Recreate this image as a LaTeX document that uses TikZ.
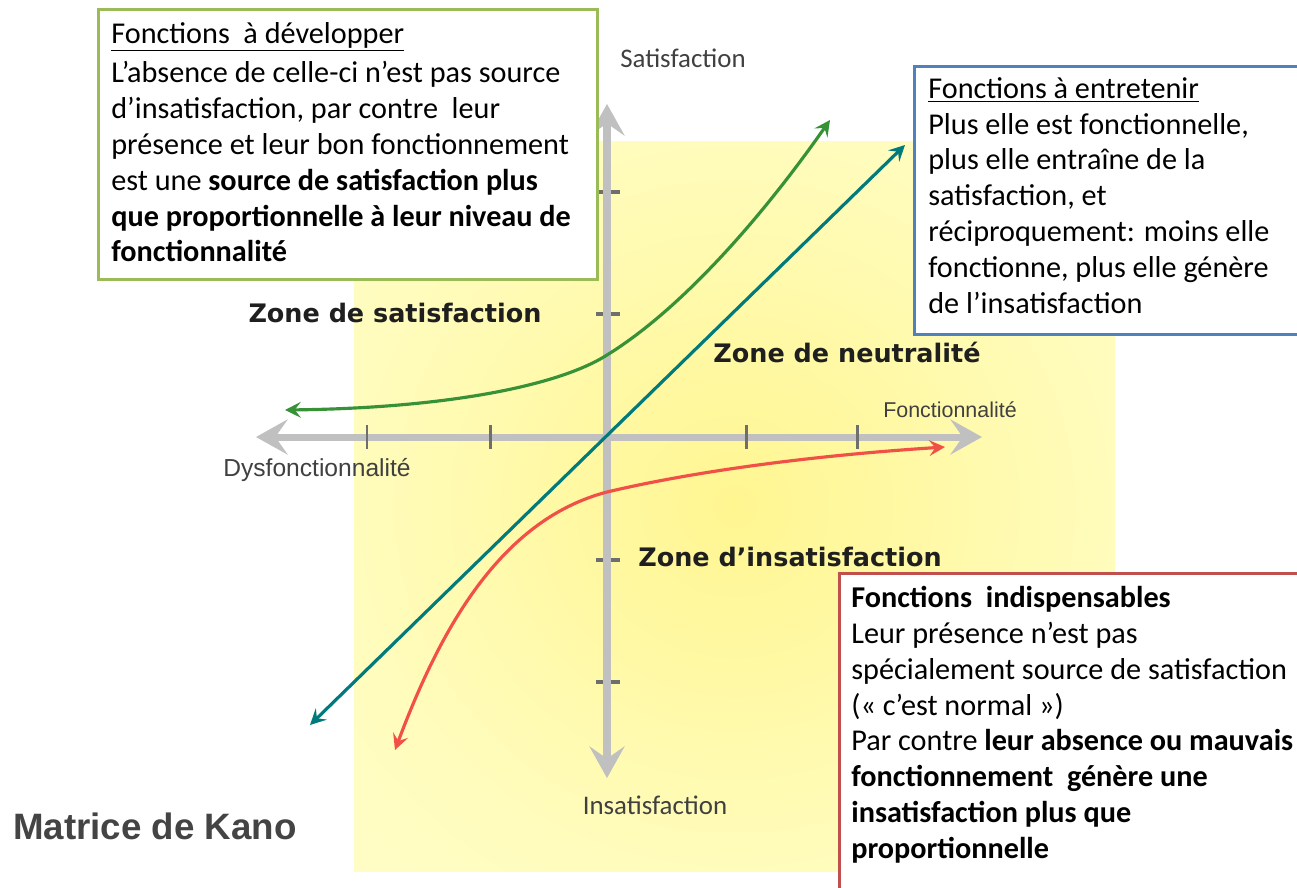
\documentclass[tikz,border=0pt]{standalone}
\usepackage{fontspec}
\setmainfont{Carlito}
\newfontfamily\arialfont{Liberation Sans}
\newfontfamily\zonefont{DejaVu Sans}
\usepackage{xcolor}
\usetikzlibrary{arrows.meta, positioning}
\definecolor{devgreen}{RGB}{155,187,89}
\definecolor{entblue}{RGB}{79,129,189}
\definecolor{indred}{RGB}{192,80,77}
\definecolor{curvegreen}{RGB}{55,145,55}
\definecolor{curveteal}{RGB}{0,122,122}
\definecolor{curvered}{RGB}{240,80,70}
\definecolor{axisgray}{RGB}{192,192,192}
\definecolor{tickgray}{RGB}{110,110,110}
\definecolor{titlegray}{RGB}{68,68,68}
\definecolor{bgcenter}{RGB}{255,246,145}
\definecolor{bgmid}{RGB}{255,252,188}
\definecolor{bgedge}{RGB}{255,255,210}
\pgfdeclareradialshading{zonebg}{\pgfpoint{0bp}{0bp}}{%
  color(0bp)=(bgcenter); color(25bp)=(bgmid); color(50bp)=(bgedge); color(75bp)=(bgedge)}

\begin{document}
\begin{tikzpicture}[x=0.02cm, y=-0.02cm,
        frame/.style={line width=1.7pt, fill=white, anchor=north west},
        boxtext/.style={font=\fontsize{17.2}{20.4}\selectfont, align=left, inner sep=0pt},
        zone/.style={font=\zonefont\bfseries\fontsize{14.5}{16}\selectfont, text=black!88},
        axis/.style={axisgray, line width=4pt, {Stealth[width=20pt,length=18pt,inset=7pt]}-{Stealth[width=20pt,length=18pt,inset=7pt]}},
        tick/.style={tickgray, line width=1.7pt},
        curve/.style={line width=1.8pt, {Stealth[width=9pt,length=9pt,inset=3.5pt]}-{Stealth[width=9pt,length=9pt,inset=3.5pt]}}]
      \useasboundingbox (0,0) rectangle (1297,887);
      \shade[shading=zonebg] (354,141) rectangle (1115,871);

      % axes
      \coordinate (xl) at (256,437);
      \coordinate (xr) at (982,437);
      \coordinate (yt) at (607,104);
      \coordinate (yb) at (607,778);
      \foreach \y in {192,314,560,682}
        \draw[tick, line width=2.6pt] (596,\y) -- (620,\y);
      \draw[axis] (xl) -- (xr);
      \draw[axis] (yb) -- (yt);
      \foreach \x in {367,490,746,857}
        \draw[tick] (\x,425) -- (\x,449);

      \node[font=\fontsize{15.3}{17}\selectfont, text=black!75] (sat) at (683,58) {Satisfaction};
      \node[font=\fontsize{15.3}{17}\selectfont, text=black!75] (insat) at (655,805) {Insatisfaction};
      \node[font=\arialfont\fontsize{12.2}{14}\selectfont, text=black!75] (fonc) at (950,410) {Fonctionnalité};
      \node[font=\arialfont\fontsize{14}{16}\selectfont, text=black!75] (dysf) at (317,470) {Dysfonctionnalité};

      % courbes
      \coordinate (g1) at (285,410);
      \coordinate (g2) at (607,355);
      \coordinate (g3) at (830,120);
      \coordinate (t1) at (310,725);
      \coordinate (t2) at (905,145);
      \coordinate (r1) at (395,750);
      \coordinate (r2) at (607,492);
      \coordinate (r3) at (945,447);
      \draw[curve, curvegreen] (g1) .. controls (450,408) and (560,385) .. (g2)
                                    .. controls (680,310) and (760,220) .. (g3);
      \draw[curve, curveteal] (t1) -- (t2);
      \draw[curve, curvered] (r1) .. controls (440,630) and (500,520) .. (r2)
                                  .. controls (700,470) and (820,455) .. (r3);

      \node[zone] (zsat) at (395,313) {Zone de satisfaction};
      \node[zone] (zneu) at (847,352) {Zone de neutralité};
      \node[zone] (zins) at (790,557) {Zone d’insatisfaction};

      % encadrés
      \node[frame, draw=devgreen, minimum width=9.98cm, minimum height=5.4cm] (devbox) at (97,8) {};
      \node[boxtext, below right=0.28cm and 0.28cm of devbox.north west] (devtxt)
        {\underline{Fonctions\ \ à développer}\\[2pt]
         L’absence de celle-ci n’est pas source\\
         d’insatisfaction, par contre\ \ leur\\
         présence et leur bon fonctionnement\\
         est une \textbf{source de satisfaction plus}\\
         \textbf{que proportionnelle à leur niveau de}\\
         \textbf{fonctionnalité}};
      \node[frame, draw=entblue, minimum width=8.4cm, minimum height=5.36cm] (entbox) at (913,65) {};
      \node[boxtext, below right=0.24cm and 0.3cm of entbox.north west] (enttxt)
        {\underline{Fonctions à entretenir}\\
         Plus elle est fonctionnelle,\\
         plus elle entraîne de la\\
         satisfaction, et\\
         réciproquement: moins elle\\
         fonctionne, plus elle génère\\
         de l’insatisfaction};
      \node[frame, draw=indred, minimum width=9.6cm, minimum height=6.6cm] (indbox) at (838,572) {};
      \node[boxtext, below right=0.28cm and 0.26cm of indbox.north west] (indtxt)
        {\textbf{Fonctions\ \ indispensables}\\
         Leur présence n’est pas\\
         spécialement source de satisfaction\\
         («~c’est normal~»)\\
         Par contre \textbf{leur absence ou mauvais}\\
         \textbf{fonctionnement\ \ génère une}\\
         \textbf{insatisfaction plus que}\\
         \textbf{proportionnelle}};

      \node[font=\arialfont\bfseries\fontsize{20.9}{24}\selectfont, text=titlegray] (titre) at (155,826) {Matrice de Kano};
    \end{tikzpicture}
\end{document}
